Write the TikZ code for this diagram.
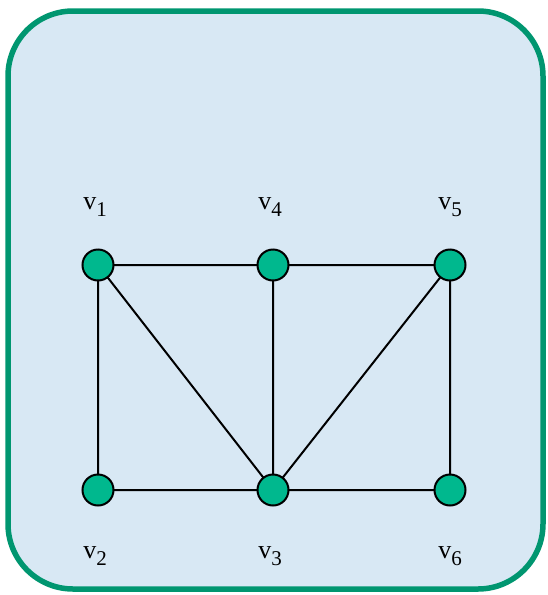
\documentclass[tikz,border=0pt]{standalone}
\usepackage{fontspec}
\setmainfont{Liberation Serif}
\usetikzlibrary{backgrounds}
\definecolor{frame}{RGB}{0,150,112}
\definecolor{bgfill}{RGB}{216,232,244}
\definecolor{vfill}{RGB}{0,184,142}
\tikzset{
  vert/.style={circle,draw=black,line width=2pt,fill=vfill,minimum size=31pt,inner sep=0pt},
  edge/.style={draw=black,line width=2pt},
  lab/.style={anchor=base,inner sep=0pt,font=\fontsize{26}{26}\selectfont}
}
\newcommand{\vlab}[1]{v\raisebox{-7pt}{\fontsize{21}{21}\selectfont #1}}
\begin{document}
\begin{tikzpicture}[x=1pt,y=-1pt]
\useasboundingbox (0,0) rectangle (548,595);
\node[vert] (v1) at (98,265) {};
\node[vert] (v4) at (273,265) {};
\node[vert] (v5) at (450,265) {};
\node[vert] (v2) at (98,490) {};
\node[vert] (v3) at (273,490) {};
\node[vert] (v6) at (450,490) {};
\begin{scope}[on background layer]
\draw[frame,line width=5.5pt,fill=bgfill,rounded corners=65pt] (8,11) rectangle (543,589);
\path[edge] (v1.center) -- (v4.center) (v4.center) -- (v5.center)
  (v2.center) -- (v3.center) (v3.center) -- (v6.center)
  (v1.center) -- (v2.center) (v4.center) -- (v3.center) (v5.center) -- (v6.center)
  (v1.center) -- (v3.center) (v5.center) -- (v3.center);
\end{scope}
\node[lab] (l1) at (95,209) {\vlab{1}};
\node[lab] (l4) at (270,209) {\vlab{4}};
\node[lab] (l5) at (450,209) {\vlab{5}};
\node[lab] (l2) at (95,558) {\vlab{2}};
\node[lab] (l3) at (270,558) {\vlab{3}};
\node[lab] (l6) at (450,558) {\vlab{6}};
\end{tikzpicture}
\end{document}
